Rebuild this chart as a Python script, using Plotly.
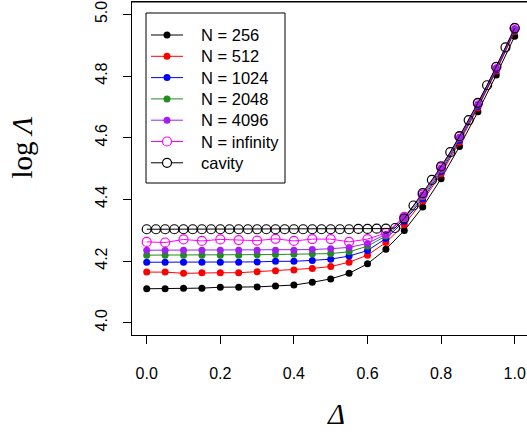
import plotly.graph_objects as go

# Delta grid for the finite-N runs and the N -> infinity extrapolation
delta = [0.00, 0.05, 0.10, 0.15, 0.20, 0.25, 0.30, 0.35, 0.40, 0.45, 0.50,
         0.55, 0.60, 0.65, 0.70, 0.75, 0.80, 0.85, 0.90, 0.95, 1.00]

log_lambda_256 = [4.110, 4.110, 4.112, 4.112, 4.115, 4.115, 4.116, 4.119, 4.122, 4.131, 4.142,
                  4.160, 4.191, 4.238, 4.299, 4.375, 4.467, 4.571, 4.684, 4.803, 4.929]
log_lambda_512 = [4.164, 4.164, 4.160, 4.162, 4.162, 4.162, 4.165, 4.168, 4.171, 4.176, 4.182,
                  4.196, 4.219, 4.260, 4.318, 4.395, 4.483, 4.585, 4.697, 4.816, 4.944]
log_lambda_1024 = [4.196, 4.196, 4.196, 4.196, 4.196, 4.196, 4.197, 4.199, 4.199, 4.202, 4.206,
                   4.216, 4.234, 4.273, 4.329, 4.402, 4.490, 4.592, 4.702, 4.820, 4.948]
log_lambda_2048 = [4.219, 4.219, 4.219, 4.219, 4.219, 4.219, 4.220, 4.221, 4.222, 4.223, 4.224,
                   4.230, 4.248, 4.281, 4.335, 4.408, 4.496, 4.597, 4.706, 4.824, 4.951]
log_lambda_4096 = [4.235, 4.235, 4.235, 4.235, 4.235, 4.235, 4.235, 4.235, 4.235, 4.237, 4.240,
                   4.244, 4.257, 4.287, 4.341, 4.415, 4.502, 4.601, 4.709, 4.827, 4.954]
log_lambda_inf = [4.262, 4.260, 4.270, 4.265, 4.270, 4.268, 4.266, 4.272, 4.265, 4.271, 4.271,
                  4.262, 4.271, 4.291, 4.343, 4.415, 4.503, 4.603, 4.711, 4.829, 4.956]

# Cavity model on a finer Delta grid
delta_cavity = [0.000, 0.025, 0.050, 0.075, 0.100, 0.125, 0.150, 0.175, 0.200, 0.225,
                0.250, 0.275, 0.300, 0.325, 0.350, 0.375, 0.400, 0.425, 0.450, 0.475,
                0.500, 0.525, 0.550, 0.575, 0.600, 0.625, 0.650, 0.675, 0.700, 0.725,
                0.750, 0.775, 0.800, 0.825, 0.850, 0.875, 0.900, 0.925, 0.950, 0.975, 1.000]
log_lambda_cavity = [4.303, 4.303, 4.303, 4.303, 4.303, 4.303, 4.303, 4.303, 4.303, 4.303,
                     4.303, 4.303, 4.303, 4.303, 4.303, 4.303, 4.303, 4.303, 4.303, 4.303,
                     4.303, 4.303, 4.303, 4.304, 4.304, 4.305, 4.305, 4.307, 4.338, 4.380,
                     4.420, 4.463, 4.507, 4.553, 4.605, 4.657, 4.713, 4.770, 4.830, 4.893, 4.955]

y_ticks = [4.0, 4.2, 4.4, 4.6, 4.8, 5.0]
x_ticks = [0.0, 0.2, 0.4, 0.6, 0.8, 1.0]

series = [
    ("N = 256", delta, log_lambda_256, "#000000", "circle"),
    ("N = 512", delta, log_lambda_512, "#FF0000", "circle"),
    ("N = 1024", delta, log_lambda_1024, "#0000FF", "circle"),
    ("N = 2048", delta, log_lambda_2048, "#228B22", "circle"),
    ("N = 4096", delta, log_lambda_4096, "#A020F0", "circle"),
    ("N = infinity", delta, log_lambda_inf, "#FF00FF", "circle-open"),
    ("cavity", delta_cavity, log_lambda_cavity, "#000000", "circle-open"),
]

FILLED_SIZE, OPEN_SIZE, OPEN_LW = 7, 9, 1.2

fig = go.Figure()
for name, xs, ys, color, symbol in series:
    is_open = symbol == "circle-open"
    fig.add_trace(go.Scatter(
        x=xs, y=ys, name=name, mode="lines+markers", showlegend=False,
        line=dict(color=color, width=1),
        marker=dict(color=color, symbol=symbol, size=OPEN_SIZE if is_open else FILLED_SIZE,
                    line=dict(color=color, width=OPEN_LW if is_open else 0)),
    ))

W, H = 527, 432
L, R, T, B = 132, 0, 2, 97
pw, ph = W - L - R, H - T - B


def px_x(p):
    return (p - L) / pw


def px_y(p):
    return (H - B - p) / ph


tick_font = dict(family="Liberation Sans, Arial, sans-serif", size=16, color="black")
legend_font = dict(family="Liberation Sans, Arial, sans-serif", size=16.5, color="black")
title_font = dict(family="Liberation Serif, Times New Roman, serif", size=29, color="black")

# Top edge of the plot box
shapes = [dict(type="line", xref="paper", yref="paper", x0=0, x1=1, y0=1, y1=1,
               line=dict(color="black", width=1), layer="above")]

# Legend box in the upper-left corner (R-style key: line segment, symbol, label)
shapes.append(dict(type="rect", xref="paper", yref="paper",
                   x0=px_x(146), x1=px_x(285), y0=px_y(13), y1=px_y(183),
                   line=dict(color="black", width=1), fillcolor="white", layer="above"))
annotations = []
row0, row_step = 35, 21.3
key_x0, key_x1, text_x = 151, 183, 199
key_mid = (key_x0 + key_x1) / 2
for i, (name, _, _, color, symbol) in enumerate(series):
    yy = row0 + i * row_step
    shapes.append(dict(type="line", xref="paper", yref="paper",
                       x0=px_x(key_x0), x1=px_x(key_x1), y0=px_y(yy), y1=px_y(yy),
                       line=dict(color=color, width=1), layer="above"))
    if symbol == "circle-open":
        r = OPEN_SIZE / 2
        shapes.append(dict(type="circle", xref="paper", yref="paper",
                           x0=px_x(key_mid - r), x1=px_x(key_mid + r),
                           y0=px_y(yy + r), y1=px_y(yy - r),
                           line=dict(color=color, width=OPEN_LW), fillcolor="white",
                           layer="above"))
    else:
        r = FILLED_SIZE / 2
        shapes.append(dict(type="circle", xref="paper", yref="paper",
                           x0=px_x(key_mid - r), x1=px_x(key_mid + r),
                           y0=px_y(yy + r), y1=px_y(yy - r),
                           line=dict(color=color, width=0), fillcolor=color,
                           layer="above"))
    annotations.append(dict(text=name, xref="paper", yref="paper",
                            x=px_x(text_x), y=px_y(yy), xanchor="left", yanchor="middle",
                            showarrow=False, font=legend_font))

annotations += [
    dict(text="log <i>Λ</i>", xref="paper", yref="paper",
         x=px_x(21), y=px_y(147.5), xanchor="center", yanchor="middle",
         textangle=-90, showarrow=False, font=title_font),
    dict(text="<i>Δ</i>", xref="paper", yref="paper",
         x=px_x(336), y=px_y(414), xanchor="center", yanchor="middle",
         showarrow=False, font=title_font),
]

fig.update_layout(
    width=W, height=H,
    margin=dict(l=L, r=R, t=T, b=B, pad=0),
    paper_bgcolor="white", plot_bgcolor="white",
    showlegend=False,
    xaxis=dict(
        range=[-0.04, -0.04 + 1.08 * pw / 397.4],
        tickvals=x_ticks, ticktext=[f"{v:.1f}" for v in x_ticks],
        ticks="outside", ticklen=8, tickwidth=1, tickcolor="black",
        showline=True, linecolor="black", linewidth=1, mirror=True,
        showgrid=False, zeroline=False, tickfont=tick_font,
        ticklabelstandoff=16, ticklabeloverflow="allow",
    ),
    yaxis=dict(
        range=[3.96, 5.04],
        tickvals=y_ticks, ticktext=[f"{v:.1f}" for v in y_ticks],
        ticks="outside", ticklen=8, tickwidth=1, tickcolor="black",
        showline=True, linecolor="black", linewidth=1, mirror=False,
        showgrid=False, zeroline=False, tickfont=tick_font, tickangle=-90,
        ticklabelstandoff=10, ticklabeloverflow="allow",
    ),
    shapes=shapes,
    annotations=annotations,
)

fig.write_html("out.html")
